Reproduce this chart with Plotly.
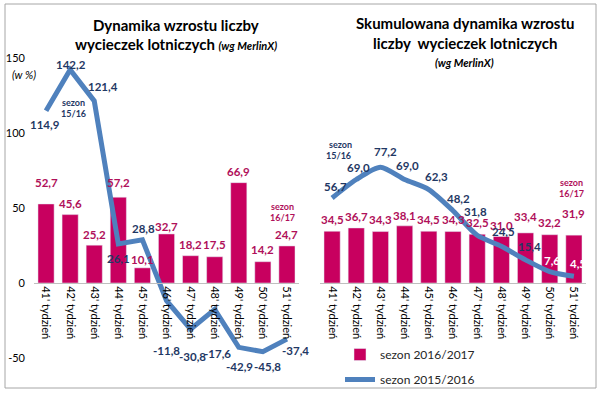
import plotly.graph_objects as go

weeks = ["41' tydzień", "42' tydzień", "43' tydzień", "44' tydzień", "45' tydzień", "46' tydzień",
         "47' tydzień", "48' tydzień", "49' tydzień", "50' tydzień", "51' tydzień"]

# left chart: weekly dynamics
left_2016 = [52.7, 45.6, 25.2, 57.2, 10.1, 32.7, 18.2, 17.5, 66.9, 14.2, 24.7]
left_2015 = [114.9, 142.2, 121.4, 26.1, 28.8, -11.8, -30.8, -17.6, -42.9, -45.8, -37.4]

# right chart: cumulative dynamics
right_2016 = [34.5, 36.7, 34.3, 38.1, 34.5, 34.3, 32.5, 31.0, 33.4, 32.2, 31.9]
right_2015 = [56.7, 69.0, 77.2, 69.0, 62.3, 48.2, 31.8, 24.5, 15.4, 7.6, 4.5]

y_ticks = [-50, 0, 50, 100, 150]

# label offsets (pixels) - styling only
lb_dy = [21, 11, 11, 15, 8, 7, 11, 12, 11, 12, 11]
ll_dx = [-1, 1, 9, 0, 1, 0, 2, 3, 1, 5, 9]
ll_dy = [-14, 5, 14, -15, 11, -50, -27, -44, -19, -15, -11]
rb_dy = [12, 11, 12, 10, 12, 12, 12, 11, 16, 12, 22]
rl_dx = [3, 2, 5, 3, 8, 5, -2, 2, 4, 2, 4]
rl_dy = [11, 12, 16, 14, 13, 12, 24, 15, 13, 11, 13]

MAG = "#C8005F"
MAG_T = "#B0105A"
BLUE = "#4F81BD"
NAVY = "#1F3864"
FONT = "Lato"

fig = go.Figure()
fig.add_trace(go.Bar(x=weeks, y=left_2016, marker_color=MAG, name="sezon 2016/2017",
                     xaxis="x", yaxis="y", legendgroup="a"))
fig.add_trace(go.Scatter(x=weeks, y=left_2015, mode="lines", line=dict(color=BLUE, width=5),
                         name="sezon 2015/2016", xaxis="x", yaxis="y", legendgroup="b"))
fig.add_trace(go.Bar(x=weeks, y=right_2016, marker_color=MAG, showlegend=False,
                     xaxis="x2", yaxis="y2"))
fig.add_trace(go.Scatter(x=weeks, y=right_2015, mode="lines",
                         line=dict(color=BLUE, width=5, shape="spline", smoothing=0.7),
                         showlegend=False, xaxis="x2", yaxis="y2"))

ann = []
def lab(xr, yr, x, y, text, color, dx=0, dy=0, size=11.5):
    ann.append(dict(xref=xr, yref=yr, x=x, y=y, text="<b>%s</b>" % text, showarrow=False,
                    xshift=dx, yshift=dy, font=dict(family=FONT, size=size, color=color)))

fmt = lambda v: ("%.1f" % v).replace(".", ",")
for i, w in enumerate(weeks):
    lab("x", "y", w, left_2016[i], fmt(left_2016[i]), MAG_T, 0, lb_dy[i])
    lab("x", "y", w, left_2015[i], fmt(left_2015[i]), NAVY, ll_dx[i], ll_dy[i])
    lab("x2", "y2", w, right_2016[i], fmt(right_2016[i]), MAG_T, 0, rb_dy[i])
    col = "white" if i >= 9 else NAVY
    lab("x2", "y2", w, right_2015[i], fmt(right_2015[i]), col, rl_dx[i], rl_dy[i])

def txt(x, y, text, size, color, bold=True, italic=False):
    t = text
    if italic:
        t = "<i>%s</i>" % t
    if bold:
        t = "<b>%s</b>" % t
    ann.append(dict(xref="paper", yref="paper", x=x / 600, y=(373 - y) / 330, text=t, showarrow=False,
                    xanchor="center", yanchor="middle", font=dict(family=FONT, size=size, color=color)))

txt(176, 25, "Dynamika wzrostu liczby", 15, "#000000")
txt(176, 44, "wycieczek lotniczych <span style='font-size:11px'><i>(wg MerlinX)</i></span>", 15, "#000000")
txt(465, 23, "Skumulowana dynamika wzrostu", 15, "#000000")
txt(465, 43, "liczby  wycieczek lotniczych", 15, "#000000")
txt(464, 62, "(wg MerlinX)", 11, "#000000", italic=True)
txt(24, 75, "(w %)", 11, "#000000", bold=False, italic=True)
txt(73, 102, "sezon", 9, NAVY)
txt(73, 113, "15/16", 9, NAVY)
txt(340, 144, "sezon", 9, NAVY)
txt(339, 155, "15/16", 9, NAVY)
txt(282, 206, "sezon", 9, MAG_T)
txt(282, 217, "16/17", 9, MAG_T)
txt(571, 183, "sezon", 9, MAG_T)
txt(571, 194, "16/17", 9, MAG_T)

zero_pos = (373 - 283) / 330
xa = dict(type="category", tickangle=90, anchor="free", position=zero_pos, showline=True,
          linecolor="#BFBFBF", linewidth=1, showgrid=False, ticks="", automargin=False,
          tickfont=dict(family=FONT, size=11, color="#000000"), range=[-0.5, 10.5])
ya = dict(range=[-60, 160], showgrid=False, zeroline=False, showline=False, domain=[0, 1],
          automargin=False)

fig.update_layout(
    width=600, height=394, margin=dict(l=0, r=0, t=43, b=21, autoexpand=False),
    paper_bgcolor="white", plot_bgcolor="white", bargap=0.33,
    font=dict(family=FONT),
    xaxis=dict(xa, domain=[34 / 600, 299 / 600]),
    xaxis2=dict(xa, domain=[320 / 600, 586 / 600]),
    yaxis=dict(ya, anchor="x", tickvals=y_ticks, ticktext=[str(v) for v in y_ticks],
               tickfont=dict(family=FONT, size=11, color="#000000"), ticklabelstandoff=8),
    yaxis2=dict(ya, anchor="x2", showticklabels=False),
    annotations=ann,
    showlegend=True,
    legend=dict(x=340 / 600, y=(373 - 340) / 330, xanchor="left", yanchor="top",
                font=dict(family=FONT, size=12, color="#262626"), bgcolor="rgba(0,0,0,0)",
                tracegroupgap=6, itemwidth=30),
    shapes=[dict(type="rect", xref="paper", yref="paper", x0=5 / 600, x1=596 / 600,
                 y0=(373 - 388) / 330, y1=(373 - 4) / 330, line=dict(color="#A6A6A6", width=1),
                 fillcolor="rgba(0,0,0,0)", layer="above")],
)

fig.write_html("out.html", config={"displayModeBar": False},
               post_script="document.body.style.margin='0';document.body.style.padding='0';")
